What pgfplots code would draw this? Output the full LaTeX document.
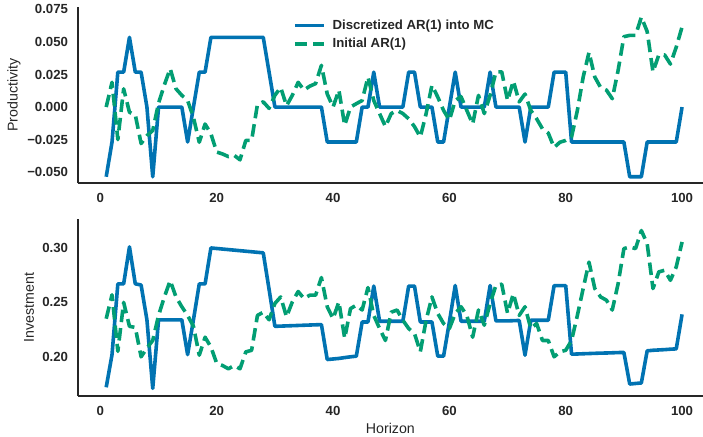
\documentclass[border=0pt]{standalone}
\usepackage{pgfplots}
\pgfplotsset{compat=1.18}
\usepackage{pgfplotstable}
\usepackage{fontspec}
\setmainfont{Liberation Sans}

\definecolor{cbblue}{HTML}{0173B2}
\definecolor{cbgreen}{HTML}{029E73}
\definecolor{ink}{HTML}{262626}

% productivity: discretized chain (mc) and initial AR(1) (ar)
\pgfplotstableread{
t mc ar
1 -0.0535 0.000
2 -0.0268 0.019
3 0.0268 -0.025
4 0.0268 0.014
5 0.0535 -0.004
6 0.0268 -0.006
7 0.0268 -0.028
8 0 -0.022
9 -0.0535 -0.018
10 0 0.003
11 0 0.017
12 0 0.0295
13 0 0.014
14 0 0.009
15 -0.0268 0.005
16 0 -0.008
17 0.0268 -0.027
18 0.0268 -0.013
19 0.0535 -0.0205
20 0.0535 -0.0345
21 0.0535 -0.036
22 0.0535 -0.038
23 0.0535 -0.037
24 0.0535 -0.0405
25 0.0535 -0.0256
26 0.0535 -0.0256
27 0.0535 0.002
28 0.0535 0.004
29 0.0268 -0.001
30 0 0.009
31 0 0.015
32 0 0.001
33 0 0.009
34 0 0.019
35 0 0.013
36 0 0.016
37 0 0.018
38 0 0.032
39 -0.0268 0.010
40 -0.0268 0.000
41 -0.0268 0.013
42 -0.0268 -0.014
43 -0.0268 0.000
44 -0.0268 0.0026
45 0 0.005
46 0 0.023
47 0.0268 0.005
48 0 -0.005
49 0 -0.015
50 0 -0.005
51 0 -0.0026
52 0 -0.005
53 0.0268 -0.009
54 0.0268 -0.015
55 0 -0.023
56 0 -0.005
57 0 0.0167
58 -0.0268 0.0077
59 -0.0268 -0.0026
60 0 -0.010
61 0.0268 0.005
62 0 0.008
63 0 -0.0026
64 0 -0.013
65 0 0.009
66 0 -0.005
67 0.0268 0.009
68 0 0.027
69 0 0.027
70 0 0.005
71 0 0.020
72 0 0.004
73 -0.0268 0.010
74 0 -0.0026
75 0 -0.009
76 0 -0.0167
77 0 -0.020
78 0.0268 -0.031
79 0.0268 -0.027
80 0.0268 -0.0256
81 -0.0268 -0.023
82 -0.0268 -0.0026
83 -0.0268 0.023
84 -0.0268 0.042
85 -0.0268 0.023
86 -0.0268 0.015
87 -0.0268 0.013
88 -0.0268 0.0064
89 -0.0268 0.028
90 -0.0268 0.054
91 -0.0535 0.055
92 -0.0535 0.055
93 -0.0535 0.069
94 -0.0268 0.058
95 -0.0268 0.027
96 -0.0268 0.040
97 -0.0268 0.040
98 -0.0268 0.033
99 -0.0268 0.046
100 0 0.0615
}\prodtable

% investment
\pgfplotstableread{
t mc ar
1 0.172 0.235
2 0.202 0.257
3 0.267 0.205
4 0.267 0.250
5 0.301 0.228
6 0.267 0.227
7 0.266 0.200
8 0.234 0.208
9 0.171 0.215
10 0.234 0.238
11 0.234 0.255
12 0.234 0.270
13 0.234 0.255
14 0.234 0.246
15 0.202 0.238
16 0.234 0.228
17 0.267 0.2015
18 0.267 0.218
19 0.300 0.209
20 0.2995 0.194
21 0.299 0.192
22 0.2985 0.189
23 0.298 0.192
24 0.2975 0.189
25 0.297 0.2045
26 0.2965 0.206
27 0.296 0.238
28 0.2955 0.241
29 0.262 0.234
30 0.228 0.249
31 0.2282 0.255
32 0.2284 0.2367
33 0.2286 0.2505
34 0.2288 0.260
35 0.229 0.2535
36 0.2292 0.2566
37 0.2294 0.2566
38 0.2296 0.2728
39 0.1975 0.246
40 0.198 0.235
41 0.1985 0.2505
42 0.1993 0.217
43 0.2 0.2443
44 0.2006 0.2474
45 0.232 0.243
46 0.232 0.2636
47 0.265 0.238
48 0.2327 0.226
49 0.2327 0.215
50 0.2327 0.241
51 0.2327 0.243
52 0.2327 0.2336
53 0.265 0.226
54 0.265 0.2214
55 0.232 0.2046
56 0.232 0.2336
57 0.232 0.255
58 0.2006 0.2398
59 0.2006 0.2306
60 0.232 0.226
61 0.2655 0.2398
62 0.2327 0.246
63 0.2327 0.238
64 0.2327 0.218
65 0.2327 0.243
66 0.2327 0.229
67 0.2655 0.249
68 0.2330 0.2657
69 0.2330 0.2667
70 0.2330 0.240
71 0.2332 0.258
72 0.2334 0.238
73 0.2015 0.246
74 0.2336 0.226
75 0.2336 0.2306
76 0.2336 0.215
77 0.2336 0.215
78 0.2654 0.200
79 0.2654 0.2046
80 0.2654 0.206
81 0.2024 0.215
82 0.2026 0.238
83 0.2028 0.2627
84 0.2030 0.287
85 0.2032 0.2627
86 0.2034 0.255
87 0.2035 0.252
88 0.2037 0.243
89 0.2039 0.267
90 0.204 0.2994
91 0.175 0.301
92 0.1755 0.2994
93 0.176 0.316
94 0.2055 0.304
95 0.206 0.2627
96 0.2063 0.278
97 0.2066 0.2795
98 0.207 0.2703
99 0.2073 0.2826
100 0.239 0.3055
}\invtable

\pgfplotsset{
  panel/.style={
    scale only axis,
    width=625.3pt,
    axis x line*=bottom,
    axis y line*=left,
    axis line style={-, line width=1.6pt, draw=ink},
    major tick length=0pt,
    scaled ticks=false,
    xmin=-3.9, xmax=103.6,
    xtick={0,20,40,60,80,100},
    xticklabels={0,20,40,60,80,100},
    tick label style={font=\fontsize{13.2}{15}\selectfont\bfseries, text=ink, inner sep=0pt},
    xticklabel style={anchor=north, yshift=-10pt},
    yticklabel style={anchor=east, xshift=-9.5pt},
    label style={font=\fontsize{14.2}{17}\selectfont, text=ink},
  },
  mcline/.style={cbblue, line width=3.6pt, line join=round, no markers},
  arline/.style={cbgreen, line width=3.6pt, line join=round, dash pattern=on 12.5pt off 6pt, no markers},
}

\begin{document}
\begin{tikzpicture}
\begin{axis}[
  panel,
  at={(77.7pt,252.7pt)}, anchor=south west,
  height=176.6pt,
  ymin=-0.0585, ymax=0.077,
  ytick={-0.05,-0.025,0,0.025,0.05,0.075},
  yticklabels={−0.050,−0.025,0.000,0.025,0.050,0.075},
  ylabel={Productivity},
  ylabel style={at={(axis description cs:-0.1019,0.5)}, anchor=center},
  legend cell align=left,
  legend image code/.code={\draw[#1] (0pt,0pt) -- (29pt,0pt);},
  legend style={draw=none, fill=none, at={(axis description cs:0.344,0.925)}, anchor=north west,
    font=\fontsize{13.2}{15}\selectfont\bfseries, text=ink, inner sep=0pt,
    nodes={inner sep=0pt}, column sep=7pt, row sep=7pt},
]
\addplot[mcline] table[x=t, y=mc] {\prodtable};
\addlegendentry{Discretized AR(1) into MC}
\addplot[arline] table[x=t, y=ar] {\prodtable};
\addlegendentry{Initial AR(1)}
\end{axis}

\begin{axis}[
  panel,
  at={(77.7pt,40pt)}, anchor=south west,
  height=177pt,
  ymin=0.164, ymax=0.3266,
  ytick={0.20,0.25,0.30},
  yticklabels={0.20,0.25,0.30},
  ylabel={Investment},
  ylabel style={at={(axis description cs:-0.0779,0.5)}, anchor=center},
  xlabel={Horizon},
  xlabel style={at={(axis description cs:0.5,-0.181)}, anchor=center},
]
\addplot[mcline] table[x=t, y=mc] {\invtable};
\addplot[arline] table[x=t, y=ar] {\invtable};
\end{axis}
\pgfresetboundingbox
\useasboundingbox (0pt,0pt) rectangle (703pt,436pt);
\end{tikzpicture}
\end{document}
